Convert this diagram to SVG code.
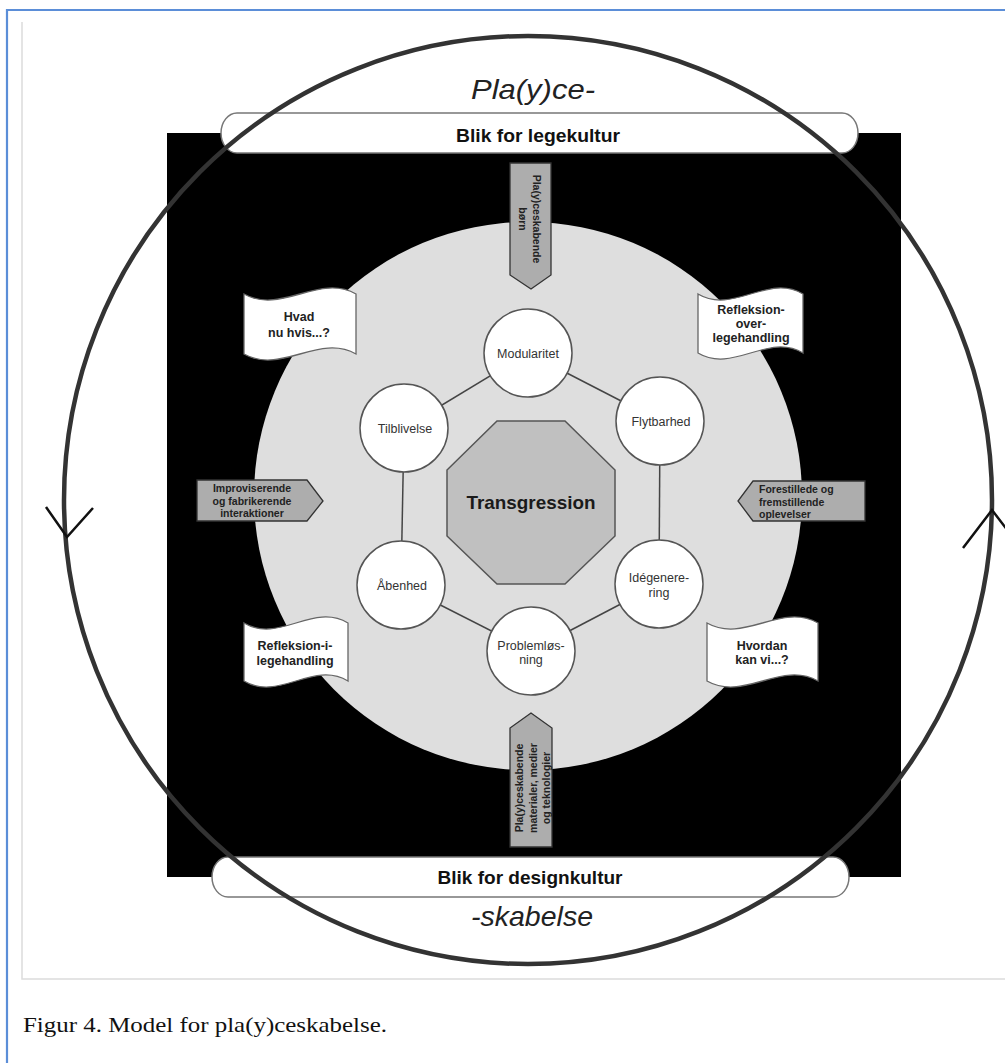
<svg xmlns="http://www.w3.org/2000/svg" width="1005" height="1063" viewBox="0 0 1005 1063">
<defs>
<style>
.sans{font-family:"Liberation Sans",Arial,sans-serif;}
.b{font-weight:bold;}
.node{fill:#fff;stroke:#555;stroke-width:1.5;}
.nlabel{font-family:"Liberation Sans",Arial,sans-serif;font-size:12.5px;fill:#333;text-anchor:middle;}
.flag{fill:#fff;stroke:#666;stroke-width:1.3;}
.flabel{font-family:"Liberation Sans",Arial,sans-serif;font-size:12.5px;font-weight:bold;fill:#222;text-anchor:middle;}
.arr{fill:#adadad;stroke:#333;stroke-width:1.3;}
.alabel{font-family:"Liberation Sans",Arial,sans-serif;font-size:10.5px;font-weight:bold;fill:#222;}
.banner{fill:#fff;stroke:#777;stroke-width:1.5;}
.blabel{font-family:"Liberation Sans",Arial,sans-serif;font-size:18.5px;font-weight:bold;fill:#111;text-anchor:middle;}
.edge{stroke:#444;stroke-width:1.5;fill:none;}
</style>
</defs>
<rect width="1005" height="1063" fill="#fff"/>
<!-- frames -->
<path d="M22,22 V979 H1005" fill="none" stroke="#dcdcdc" stroke-width="1.5"/>
<path d="M7,1063 V10 H1005" fill="none" stroke="#5b8ed8" stroke-width="2.2"/>
<!-- background -->
<rect id="black-square" x="167" y="133" width="734" height="744" fill="#000"/>
<circle id="disk" cx="528" cy="496" r="274" fill="#dedede"/>

<!-- flags -->
<g id="flag-hvad">
<path class="flag" d="M244,294 C281,315 319,273 356,294 L356,354 C319,333 281,375 244,354 Z"/>
<text class="flabel" x="299" y="321">Hvad</text>
<text class="flabel" x="299" y="337">nu hvis...?</text>
</g>
<g id="flag-refleksion-over">
<path class="flag" d="M698,294 C733,315 768,273 803,294 L803,353 C768,332 733,374 698,353 Z"/>
<text class="flabel" x="751" y="314">Refleksion-</text>
<text class="flabel" x="751" y="328">over-</text>
<text class="flabel" x="751" y="342">legehandling</text>
</g>
<g id="flag-refleksion-i">
<path class="flag" d="M244,623 C279,644 313,602 348,623 L348,681 C313,660 279,702 244,681 Z"/>
<text class="flabel" x="295" y="650">Refleksion-i-</text>
<text class="flabel" x="295" y="665">legehandling</text>
</g>
<g id="flag-hvordan">
<path class="flag" d="M707,623 C744,644 781,602 818,623 L818,681 C781,660 744,702 707,681 Z"/>
<text class="flabel" x="762" y="650">Hvordan</text>
<text class="flabel" x="762" y="664">kan vi...?</text>
</g>

<!-- arrows -->
<g id="arrow-top">
<polygon class="arr" points="510,163 551,163 551,275 531,289 510,275"/>
<text class="alabel" text-anchor="middle" transform="translate(533,219) rotate(90)">Pla(y)ceskabende</text>
<text class="alabel" text-anchor="middle" transform="translate(519,219) rotate(90)">børn</text>
</g>
<g id="arrow-bottom">
<polygon class="arr" points="510,847 552,847 552,728 531,713 510,728"/>
<text class="alabel" text-anchor="middle" transform="translate(523,788) rotate(-90)">Pla(y)ceskabende</text>
<text class="alabel" text-anchor="middle" transform="translate(536.5,788) rotate(-90)">materialer, medier</text>
<text class="alabel" text-anchor="middle" transform="translate(550,788) rotate(-90)">og teknologier</text>
</g>
<g id="arrow-left">
<polygon class="arr" points="197,480 307,480 323,501 307,521 197,521"/>
<text class="alabel" text-anchor="middle" x="252" y="492">Improviserende</text>
<text class="alabel" text-anchor="middle" x="252" y="504.5">og fabrikerende</text>
<text class="alabel" text-anchor="middle" x="252" y="517">interaktioner</text>
</g>
<g id="arrow-right">
<polygon class="arr" points="753,481 865,481 865,521 753,521 738,501"/>
<text class="alabel" x="759" y="493">Forestillede og</text>
<text class="alabel" x="759" y="505.5">fremstillende</text>
<text class="alabel" x="759" y="518">oplevelser</text>
</g>

<!-- connectors -->
<g id="connectors" class="edge">
<line x1="528" y1="353" x2="404" y2="428"/>
<line x1="528" y1="353" x2="660" y2="421"/>
<line x1="660" y1="421" x2="659" y2="584"/>
<line x1="659" y1="584" x2="531" y2="651"/>
<line x1="531" y1="651" x2="401" y2="585"/>
<line x1="401" y1="585" x2="404" y2="428"/>
</g>

<!-- center -->
<g id="transgression">
<polygon points="497,421 565,421 615,470 615,536 565,584 497,584 447,536 447,470" fill="#c0c0c0" stroke="#555" stroke-width="1.5"/>
<text class="sans b" x="531" y="509" font-size="19" fill="#1a1a1a" text-anchor="middle" textLength="129" lengthAdjust="spacingAndGlyphs">Transgression</text>
</g>

<!-- nodes -->
<g id="modularitet"><circle class="node" cx="528" cy="353" r="44"/><text class="nlabel" x="528" y="357.5">Modularitet</text></g>
<g id="tilblivelse"><circle class="node" cx="404" cy="428" r="44"/><text class="nlabel" x="405" y="432.5">Tilblivelse</text></g>
<g id="flytbarhed"><circle class="node" cx="660" cy="421" r="44"/><text class="nlabel" x="661" y="425.5">Flytbarhed</text></g>
<g id="aabenhed"><circle class="node" cx="401" cy="585" r="44"/><text class="nlabel" x="402" y="589.5">Åbenhed</text></g>
<g id="idegenerering"><circle class="node" cx="659" cy="584" r="44"/><text class="nlabel" x="659" y="581.5">Idégenere-</text><text class="nlabel" x="659" y="597">ring</text></g>
<g id="problemlosning"><circle class="node" cx="531" cy="651" r="44"/><text class="nlabel" x="531" y="649.5">Problemløs-</text><text class="nlabel" x="531" y="664">ning</text></g>

<!-- banners -->
<g id="banner-top">
<rect class="banner" x="221" y="113" width="637" height="40" rx="16" ry="20"/>
<text class="blabel" x="538" y="142" textLength="164" lengthAdjust="spacingAndGlyphs">Blik for legekultur</text>
</g>
<g id="banner-bottom">
<rect class="banner" x="212" y="857" width="637" height="40" rx="16" ry="20"/>
<text class="blabel" x="530" y="884" textLength="185" lengthAdjust="spacingAndGlyphs">Blik for designkultur</text>
</g>

<text id="title-top" class="sans" x="533" y="99" font-size="28" font-style="italic" fill="#222" text-anchor="middle" textLength="124" lengthAdjust="spacingAndGlyphs">Pla(y)ce-</text>
<text id="title-bottom" class="sans" x="532" y="926" font-size="28" font-style="italic" fill="#222" text-anchor="middle" textLength="122" lengthAdjust="spacingAndGlyphs">-skabelse</text>

<!-- big cycle -->
<g id="cycle">
<circle cx="528" cy="500" r="464" fill="none" stroke="#333" stroke-width="4.5"/>
<polyline points="46,507 67,537 93,508" fill="none" stroke="#111" stroke-width="2.5"/>
<polyline points="963,548 992,510 1021,548" fill="none" stroke="#111" stroke-width="2.5"/>
</g>

<text id="caption" x="23" y="1032" font-family="'Liberation Serif','Times New Roman',serif" font-size="22" fill="#111" textLength="364" lengthAdjust="spacingAndGlyphs">Figur 4. Model for pla(y)ceskabelse.</text>
</svg>
